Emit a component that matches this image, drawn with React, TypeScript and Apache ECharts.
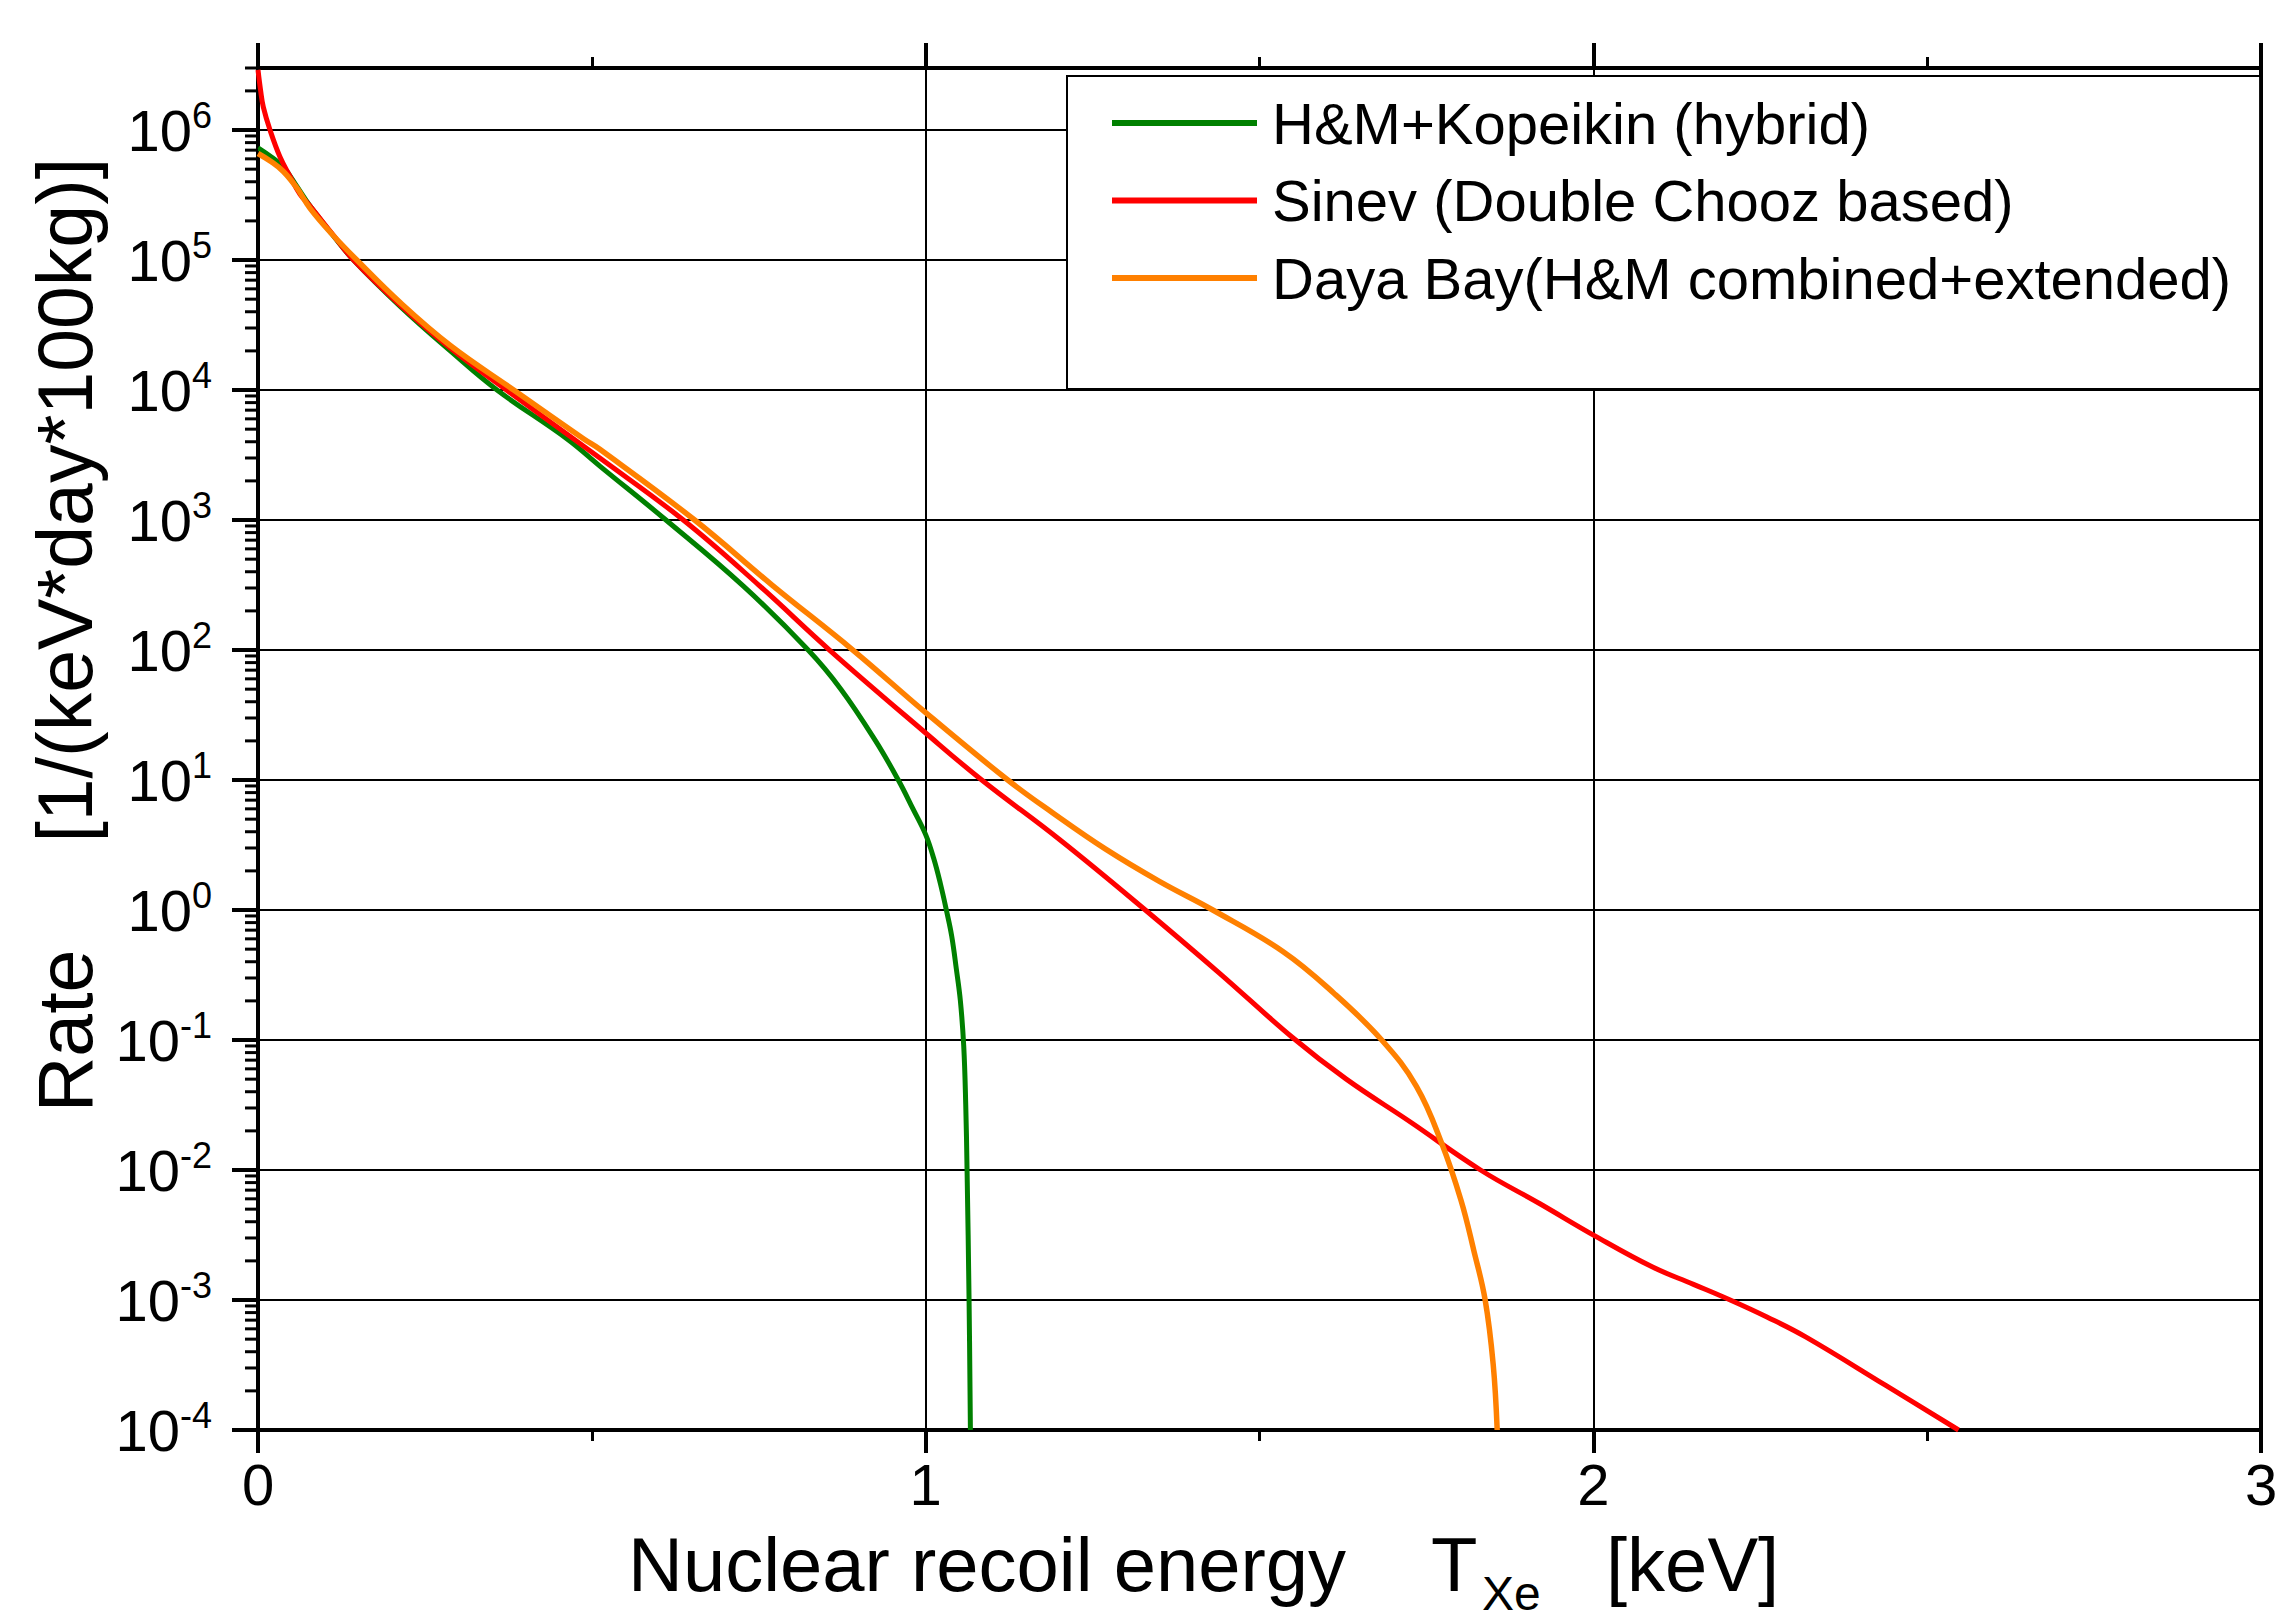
import React, { useEffect, useRef } from "react";
import * as echarts from "echarts";

// ---------- data (x = nuclear recoil energy in keV, y = rate) ----------
const hmKopeikin: [number, number][] = [
  [0, 7.3e5], [0.02, 6.2e5], [0.038, 5.2e5], [0.058, 3.7e5], [0.078, 2.6e5],
  [0.11, 1.6e5], [0.143, 1.0e5], [0.213, 4.4e4], [0.288, 2.0e4], [0.358, 1.0e4],
  [0.463, 4.2e3], [0.512, 2.6e3], [0.611, 1.0e3], [0.727, 3.1e2], [0.824, 1.0e2],
  [0.873, 50], [0.925, 20], [0.959, 10], [0.981, 6.0], [1.0, 3.8], [1.012, 2.5],
  [1.022, 1.6], [1.031, 1.0], [1.039, 0.63], [1.046, 0.35], [1.052, 0.2],
  [1.057, 0.09], [1.06, 0.032], [1.062, 0.01], [1.065, 1e-3], [1.067, 1e-4],
];

const sinev: [number, number][] = [
  [0, 2.9e6], [0.004, 2.0e6], [0.008, 1.5e6], [0.018, 1.0e6], [0.033, 6.2e5],
  [0.048, 4.4e5], [0.063, 3.2e5], [0.078, 2.6e5], [0.11, 1.62e5], [0.143, 1.0e5],
  [0.213, 4.5e4], [0.288, 2.1e4], [0.372, 1.0e4], [0.512, 3.0e3], [0.637, 1.0e3],
  [0.75, 3.16e2], [0.856, 1.0e2], [1.0, 23], [1.084, 10], [1.2, 3.5], [1.329, 1.0],
  [1.439, 0.33], [1.549, 0.105], [1.63, 0.05], [1.726, 0.0234], [1.831, 0.01],
  [1.92, 5.5e-3], [2.003, 3.1e-3], [2.088, 1.8e-3], [2.15, 1.32e-3], [2.205, 1.0e-3],
  [2.26, 7.4e-4], [2.318, 5.2e-4], [2.438, 2.2e-4], [2.547, 1.0e-4],
];

const dayaBay: [number, number][] = [
  [0, 6.6e5], [0.02, 5.7e5], [0.038, 4.8e5], [0.058, 3.6e5], [0.078, 2.5e5],
  [0.11, 1.6e5], [0.148, 1.0e5], [0.213, 4.7e4], [0.288, 2.2e4], [0.383, 1.0e4],
  [0.488, 4.2e3], [0.512, 3.5e3], [0.654, 1.0e3], [0.77, 3.16e2], [0.891, 1.0e2],
  [1.0, 33], [1.123, 10], [1.19, 5.6], [1.269, 2.95], [1.35, 1.66], [1.43, 1.0],
  [1.535, 0.48], [1.611, 0.23], [1.683, 0.1], [1.735, 0.044], [1.773, 0.016],
  [1.802, 5.8e-3], [1.821, 2.4e-3], [1.838, 1.0e-3], [1.85, 3.2e-4], [1.856, 1.0e-4],
];

const seriesNames = [
  "H&M+Kopeikin (hybrid)",
  "Sinev (Double Chooz based)",
  "Daya Bay(H&M combined+extended)",
];
const seriesColors = ["#008000", "#ff0000", "#ff8000"];

const xMin = 0;
const xMax = 3;
const yMin = 1e-4;
const yMax = 3e6;
const yDecadeExponents = [-4, -3, -2, -1, 0, 1, 2, 3, 4, 5, 6];
const yMinorMantissas = [2, 3, 4, 5, 6, 7, 8, 9];

const FONT = "'Liberation Sans', Arial, Helvetica, sans-serif";

export default function App() {
  const ref = useRef<HTMLDivElement>(null);

  useEffect(() => {
    if (!ref.current) return;
    const chart = echarts.init(ref.current, undefined, { renderer: "svg" });

    const majorY = yDecadeExponents.map((e) => [0, Math.pow(10, e)]);
    const minorY: number[][] = [];
    yDecadeExponents.forEach((e) => {
      yMinorMantissas.forEach((m) => {
        const v = m * Math.pow(10, e);
        if (v <= yMax * 1.0001) minorY.push([0, v]);
      });
    });

    const tickSeries = (data: number[][], len: number, width: number) => ({
      type: "custom",
      coordinateSystem: "cartesian2d",
      xAxisIndex: 0,
      yAxisIndex: 0,
      clip: false,
      silent: true,
      z: 6,
      data,
      renderItem: (params: any, api: any) => {
        const p = api.coord([api.value(0), api.value(1)]);
        return {
          type: "line",
          shape: { x1: p[0] - len, y1: p[1], x2: p[0], y2: p[1] },
          style: { stroke: "#000", lineWidth: width },
        };
      },
    });

    const lineSeries = [hmKopeikin, sinev, dayaBay].map((d, i) => ({
      name: seriesNames[i],
      type: "line",
      data: d,
      symbol: "none",
      smooth: 0.4,
      z: 3,
      lineStyle: { color: seriesColors[i], width: i === 2 ? 5.5 : 5 },
      itemStyle: { color: seriesColors[i] },
    }));

    const titleStyle = (text: string, size: number, lh: number) => ({
      text,
      fontSize: size,
      lineHeight: lh,
      fontFamily: FONT,
      fill: "#000",
      align: "left",
      verticalAlign: "middle",
      textAlign: "left",
      textVerticalAlign: "middle",
    });

    const option: any = {
      animation: false,
      backgroundColor: "#fff",
      grid: {
        left: 258,
        top: 68,
        width: 2003,
        height: 1362,
        show: true,
        borderColor: "#000",
        borderWidth: 4,
        backgroundColor: "transparent",
      },
      legend: {
        data: seriesNames,
        orient: "vertical",
        left: 1067,
        top: 76,
        padding: [16, 29, 80, 45],
        icon: "rect",
        itemWidth: 145,
        itemHeight: 6,
        itemGap: 15.5,
        backgroundColor: "#fff",
        borderColor: "#000",
        borderWidth: 2,
        borderRadius: 0,
        selectedMode: false,
        textStyle: {
          fontSize: 58,
          color: "#000",
          fontFamily: FONT,
          lineHeight: 62,
          padding: [0, 0, 0, 10],
        },
      },
      xAxis: [
        {
          type: "value",
          position: "bottom",
          min: xMin,
          max: xMax,
          interval: 1,
          axisLine: { show: true, onZero: false, lineStyle: { color: "#000", width: 4 } },
          axisTick: { show: true, length: 23, lineStyle: { color: "#000", width: 4 } },
          minorTick: { show: true, splitNumber: 2, length: 11, lineStyle: { color: "#000", width: 3 } },
          axisLabel: { fontSize: 58, lineHeight: 48, color: "#000", fontFamily: FONT, margin: 30 },
          splitLine: { show: true, lineStyle: { color: "#000", width: 2 } },
        },
        {
          type: "value",
          position: "top",
          min: xMin,
          max: xMax,
          interval: 1,
          axisLine: { show: true, onZero: false, lineStyle: { color: "#000", width: 4 } },
          axisTick: { show: true, length: 25, lineStyle: { color: "#000", width: 4 } },
          minorTick: { show: true, splitNumber: 2, length: 11, lineStyle: { color: "#000", width: 3 } },
          axisLabel: { show: false },
          splitLine: { show: false },
        },
      ],
      yAxis: {
        type: "log",
        logBase: 10,
        min: yMin,
        max: yMax,
        interval: 1,
        axisLine: { show: true, onZero: false, lineStyle: { color: "#000", width: 4 } },
        axisTick: { show: false },
        minorTick: { show: false },
        axisLabel: {
          margin: 46,
          formatter: (v: number) => {
            const l = Math.log10(v);
            const e = Math.round(l);
            if (Math.abs(l - e) > 1e-6) return "";
            return `{b|10}{s|${e}}`;
          },
          rich: {
            b: { fontSize: 58, color: "#000", fontFamily: FONT, lineHeight: 66 },
            s: { fontSize: 36, color: "#000", fontFamily: FONT, lineHeight: 36, verticalAlign: "top" },
          },
        },
        splitLine: { show: true, lineStyle: { color: "#000", width: 2 } },
      },
      series: [
        ...lineSeries,
        tickSeries(majorY, 26, 4),
        tickSeries(minorY, 13, 3),
      ],
      graphic: [
        {
          type: "text",
          x: 65,
          y: 635,
          rotation: Math.PI / 2,
          style: {
            text: "Rate     [1/(keV*day*100kg)]",
            fontSize: 77,
            lineHeight: 72,
            fontFamily: FONT,
            fill: "#000",
            align: "center",
            verticalAlign: "middle",
            textAlign: "center",
            textVerticalAlign: "middle",
          },
        },
        { type: "text", x: 628, y: 1564, style: titleStyle("Nuclear recoil energy", 76, 62) },
        { type: "text", x: 1431, y: 1564, style: titleStyle("T", 76, 62) },
        { type: "text", x: 1482, y: 1593, style: titleStyle("Xe", 48, 44) },
        { type: "text", x: 1606, y: 1564, style: titleStyle("[keV]", 76, 62) },
      ],
    };

    chart.setOption(option);
    return () => chart.dispose();
  }, []);

  return (
    <div
      ref={ref}
      style={{ position: "absolute", left: 0, top: 0, width: 2289, height: 1618, background: "#fff" }}
    />
  );
}
